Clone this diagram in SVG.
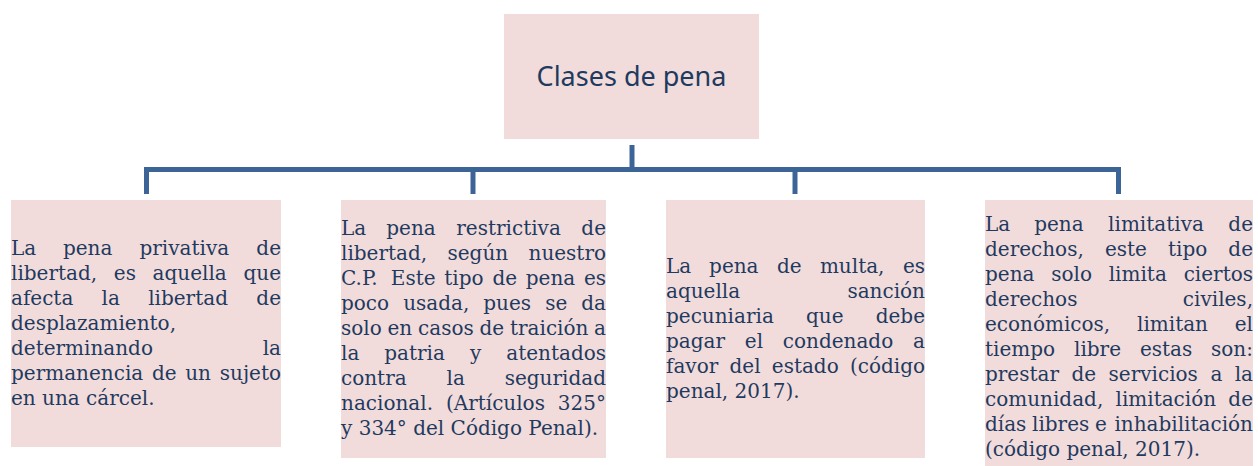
<svg xmlns="http://www.w3.org/2000/svg" width="1258" height="466" viewBox="0 0 1258 466">
<style>
.box{fill:#f2dcdb;}
.t{font-family:"DejaVu Serif","Liberation Serif",serif;font-size:20px;fill:#1f3a5f;}
.r{text-anchor:end;}
.title{font-family:"Noto Sans","Open Sans",sans-serif;font-size:27px;fill:#1f3a5f;text-anchor:middle;}
.conn{fill:none;stroke:#3c6496;stroke-width:5;stroke-linejoin:miter;stroke-linecap:butt;}
</style>
<rect width="1258" height="466" fill="#ffffff"/>
<g id="connectors">
<path class="conn" d="M146.5,194 V169.5 H1118.5 V194"/>
<path class="conn" d="M632,145 V169.5"/>
<path class="conn" d="M473,169.5 V194"/>
<path class="conn" d="M795,169.5 V194"/>
</g>
<g id="root">
<rect class="box" x="504" y="14" width="255" height="125"/>
<text class="title" x="631.5" y="86">Clases de pena</text>
</g>
<g id="privativa">
<rect class="box" x="11" y="200" width="270" height="247"/>
<text class="t" y="255"><tspan x="11">La</tspan> <tspan x="62.9">pena</tspan> <tspan x="139.5">privativa</tspan> <tspan class="r" x="281">de</tspan></text>
<text class="t" y="280"><tspan x="11">libertad,</tspan> <tspan x="113.8">es</tspan> <tspan x="152.6">aquella</tspan> <tspan class="r" x="281">que</tspan></text>
<text class="t" y="305"><tspan x="11">afecta</tspan> <tspan x="101.6">la</tspan> <tspan x="148.2">libertad</tspan> <tspan class="r" x="281">de</tspan></text>
<text class="t" y="330"><tspan x="11">desplazamiento,</tspan></text>
<text class="t" y="355"><tspan x="11">determinando</tspan> <tspan class="r" x="281">la</tspan></text>
<text class="t" y="380"><tspan x="11">permanencia</tspan> <tspan x="151.9">de</tspan> <tspan x="185.2">un</tspan> <tspan class="r" x="281">sujeto</tspan></text>
<text class="t" y="405"><tspan x="11">en una cárcel.</tspan></text>
</g>
<g id="restrictiva">
<rect class="box" x="341" y="200" width="265" height="258"/>
<text class="t" y="235"><tspan x="341">La</tspan> <tspan x="386.3">pena</tspan> <tspan x="456.3">restrictiva</tspan> <tspan class="r" x="606">de</tspan></text>
<text class="t" y="260"><tspan x="341">libertad,</tspan> <tspan x="447.5">según</tspan> <tspan class="r" x="606">nuestro</tspan></text>
<text class="t" y="285"><tspan x="341">C.P.</tspan> <tspan x="390.8">Este</tspan> <tspan x="444.3">tipo</tspan> <tspan x="492.4">de</tspan> <tspan x="525.8">pena</tspan> <tspan class="r" x="606">es</tspan></text>
<text class="t" y="310"><tspan x="341">poco</tspan> <tspan x="403.2">usada,</tspan> <tspan x="483.3">pues</tspan> <tspan x="545.2">se</tspan> <tspan class="r" x="606">da</tspan></text>
<text class="t" y="335"><tspan x="341">solo</tspan> <tspan x="387.5">en</tspan> <tspan x="418">casos</tspan> <tspan x="479.5">de</tspan> <tspan x="510">traición</tspan> <tspan class="r" x="606">a</tspan></text>
<text class="t" y="360"><tspan x="341">la</tspan> <tspan x="384.3">patria</tspan> <tspan x="469.9">y</tspan> <tspan class="r" x="606">atentados</tspan></text>
<text class="t" y="385"><tspan x="341">contra</tspan> <tspan x="446.5">la</tspan> <tspan class="r" x="606">seguridad</tspan></text>
<text class="t" y="410"><tspan x="341">nacional.</tspan> <tspan x="445.9">(Artículos</tspan> <tspan class="r" x="606">325°</tspan></text>
<text class="t" y="435"><tspan x="341">y 334° del Código Penal).</tspan></text>
</g>
<g id="multa">
<rect class="box" x="666" y="200" width="259" height="258"/>
<text class="t" y="273"><tspan x="666">La</tspan> <tspan x="709.1">pena</tspan> <tspan x="776.9">de</tspan> <tspan x="819.9">multa,</tspan> <tspan class="r" x="925">es</tspan></text>
<text class="t" y="298"><tspan x="666">aquella</tspan> <tspan class="r" x="925">sanción</tspan></text>
<text class="t" y="323"><tspan x="666">pecuniaria</tspan> <tspan x="806">que</tspan> <tspan class="r" x="925">debe</tspan></text>
<text class="t" y="348"><tspan x="666">pagar</tspan> <tspan x="744.8">el</tspan> <tspan x="782.8">condenado</tspan> <tspan class="r" x="925">a</tspan></text>
<text class="t" y="373"><tspan x="666">favor</tspan> <tspan x="729.5">del</tspan> <tspan x="771.8">estado</tspan> <tspan class="r" x="925">(código</tspan></text>
<text class="t" y="398"><tspan x="666">penal, 2017).</tspan></text>
</g>
<g id="limitativa">
<rect class="box" x="985" y="200" width="268" height="266"/>
<text class="t" y="231"><tspan x="985">La</tspan> <tspan x="1034.2">pena</tspan> <tspan x="1108.1">limitativa</tspan> <tspan class="r" x="1253">de</tspan></text>
<text class="t" y="256"><tspan x="985">derechos,</tspan> <tspan x="1104.9">este</tspan> <tspan x="1168">tipo</tspan> <tspan class="r" x="1253">de</tspan></text>
<text class="t" y="281"><tspan x="985">pena</tspan> <tspan x="1051.2">solo</tspan> <tspan x="1108.7">limita</tspan> <tspan class="r" x="1253">ciertos</tspan></text>
<text class="t" y="306"><tspan x="985">derechos</tspan> <tspan class="r" x="1253">civiles,</tspan></text>
<text class="t" y="331"><tspan x="985">económicos,</tspan> <tspan x="1137">limitan</tspan> <tspan class="r" x="1253">el</tspan></text>
<text class="t" y="356"><tspan x="985">tiempo</tspan> <tspan x="1074">libre</tspan> <tspan x="1139.9">estas</tspan> <tspan class="r" x="1253">son:</tspan></text>
<text class="t" y="381"><tspan x="985">prestar</tspan> <tspan x="1071.5">de</tspan> <tspan x="1108.6">servicios</tspan> <tspan x="1210.4">a</tspan> <tspan class="r" x="1253">la</tspan></text>
<text class="t" y="406"><tspan x="985">comunidad,</tspan> <tspan x="1115.5">limitación</tspan> <tspan class="r" x="1253">de</tspan></text>
<text class="t" y="431"><tspan x="985">días</tspan> <tspan x="1032">libres</tspan> <tspan x="1094.9">e</tspan> <tspan class="r" x="1253">inhabilitación</tspan></text>
<text class="t" y="456"><tspan x="985">(código penal, 2017).</tspan></text>
</g>
</svg>
